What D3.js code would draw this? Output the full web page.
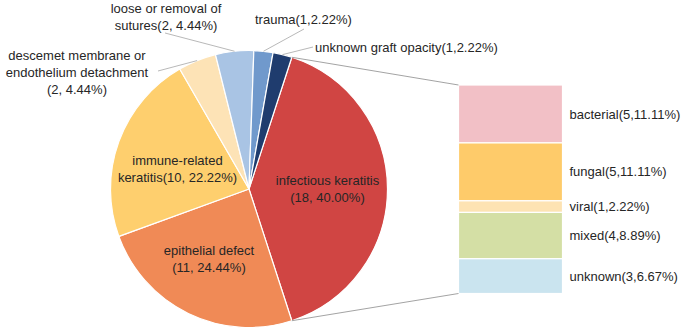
<!DOCTYPE html>
<html><head><meta charset="utf-8">
<script src="https://cdn.jsdelivr.net/npm/d3@7/dist/d3.min.js"></script>
<style>body{margin:0;background:#fff}svg{display:block}text{font-family:"Liberation Sans",Arial,sans-serif;font-size:13px;fill:#262626}</style>
</head><body>
<svg id="c" width="685" height="330"></svg>
<script>
const pieCategories = ["infectious keratitis","epithelial defect","immune-related keratitis","descemet membrane or endothelium detachment","loose or removal of sutures","trauma","unknown graft opacity"];
const pieValues = [18, 11, 10, 2, 2, 1, 1];
const pieLabels = [["infectious keratitis","(18, 40.00%)"],["epithelial defect","(11, 24.44%)"],["immune-related","keratitis(10, 22.22%)"],["descemet membrane or","endothelium detachment","(2, 4.44%)"],["loose or removal of","sutures(2, 4.44%)"],["trauma(1,2.22%)"],["unknown graft opacity(1,2.22%)"]];
const pieColors = ["#d04543","#f08a56","#fecf6e","#fde3b6","#a9c4e4","#7099cc","#1f3c6e"];
const barCategories = ["bacterial","fungal","viral","mixed","unknown"];
const barValues = [5, 5, 1, 4, 3];
const barLabels = ["bacterial(5,11.11%)","fungal(5,11.11%)","viral(1,2.22%)","mixed(4,8.89%)","unknown(3,6.67%)"];
const barColors = ["#f2c0c6","#fecb6a","#fde3b3","#d4dfa5","#cae4ef"];

const svg = d3.select("#c");
const cx = 249, cy = 189, R = 138.5;
const total = d3.sum(pieValues);
const start = 0.05 * 2 * Math.PI;
const pie = d3.pie().sort(null).value(d => d).startAngle(start).endAngle(start + 2*Math.PI);
const arcs = pie(pieValues);
const arc = d3.arc().innerRadius(0).outerRadius(R);
const g = svg.append("g").attr("transform", `translate(${cx},${cy})`);
g.selectAll("path").data(arcs).join("path")
  .attr("d", arc).attr("fill", (d,i) => pieColors[i])
  .attr("stroke", "#fff").attr("stroke-width", 1.2);

const pt = (a, r) => [cx + r*Math.sin(a), cy - r*Math.cos(a)];

// bar
const y = d3.scaleLinear().domain([0, pieValues[0]]).range([85, 293.5]);
const bx0 = 458.5, bx1 = 562.5;
const cum = d3.cumsum(barValues);
const segs = barValues.map((v,i) => ({v, y0: i ? cum[i-1] : 0, y1: cum[i]}));
svg.selectAll("rect.b").data(segs).join("rect").attr("class","b")
  .attr("x", bx0).attr("width", bx1-bx0)
  .attr("y", d => y(d.y0)).attr("height", d => y(d.y1)-y(d.y0))
  .attr("fill", (d,i) => barColors[i]).attr("stroke","#fff").attr("stroke-width",1.2);
svg.selectAll("text.b").data(segs).join("text").attr("class","b")
  .attr("x", bx0 + 111).attr("y", d => (y(d.y0)+y(d.y1))/2).attr("dy","0.35em")
  .text((d,i) => barLabels[i]);

// connectors
const pTop = pt(arcs[0].startAngle, R), pBot = pt(arcs[0].endAngle, R);
svg.append("line").attr("x1",pTop[0]).attr("y1",pTop[1]).attr("x2",bx0).attr("y2",y(0)).attr("stroke","#8c8c8c").attr("stroke-width",0.8);
svg.append("line").attr("x1",pBot[0]).attr("y1",pBot[1]).attr("x2",bx0).attr("y2",y(pieValues[0])).attr("stroke","#8c8c8c").attr("stroke-width",0.8);

// labels
const labelPos = [
  {x: 327.5, y: 180, anchor: "middle"},
  {x: 209, y: 250, anchor: "middle"},
  {x: 177.5, y: 160, anchor: "middle"},
  {x: 77, y: 55, anchor: "middle"},
  {x: 166, y: 8, anchor: "middle"},
  {x: 255, y: 19, anchor: "start"},
  {x: 315, y: 47, anchor: "start"}
];
const lh = 17;
pieLabels.forEach((lines, i) => {
  const p = labelPos[i];
  const t = svg.append("text").attr("text-anchor", p.anchor);
  lines.forEach((s, j) => t.append("tspan").attr("x", p.x).attr("y", p.y + j*lh).attr("dy","0.35em").text(s));
});
// leader lines
const leaders = [
  {i: 3, from: [158, 71], r: R},
  {i: 4, from: [165, 33], r: R},
  {i: 5, from: [304, 29], r: R},
  {i: 6, from: [313, 47], r: R}
];
leaders.forEach(l => {
  const a = arcs[l.i];
  const e = pt((a.startAngle + a.endAngle)/2, l.r);
  svg.append("polyline").attr("points", `${l.from[0]},${l.from[1]} ${e[0]},${e[1]}`)
    .attr("fill","none").attr("stroke","#a6a6a6").attr("stroke-width",0.8);
});
</script>
</body></html>
